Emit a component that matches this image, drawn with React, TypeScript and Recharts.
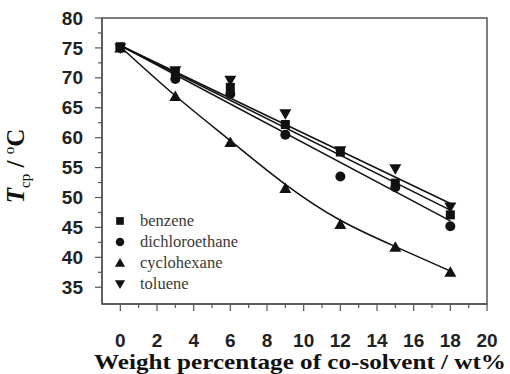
import React from "react";
import { ComposedChart, Line, Scatter, XAxis, YAxis, ReferenceArea, Legend } from "recharts";

// co-solvent content (wt%)
const xs = [0, 3, 6, 9, 12, 15, 18];

// measured cloud points (°C)
const benzene = [75.2, 71.0, 68.4, 62.2, 57.6, 52.4, 47.1];
const dichloroethane = [75.0, 69.8, 67.3, 60.5, 53.5, 51.7, 45.2];
const cyclohexane = [75.0, 66.9, 59.2, 51.5, 45.5, 41.7, 37.5];
const toluene = [75.0, 71.2, 69.6, 64.0, 57.8, 54.8, 48.4];

// fitted lines, read at the ends of the drawn lines
const fitX = [0, 18];
const benzeneFit = [75.4, 47.9];
const dichloroethaneFit = [75.4, 46.1];
const tolueneFit = [75.4, 49.0];
// fitted curve for cyclohexane, read at each x
const cyclohexaneFit = [75.2, 67.0, 59.5, 52.2, 46.2, 41.8, 37.7];

const xTicks = [0, 1, 2, 3, 4, 5, 6, 7, 8, 9, 10, 11, 12, 13, 14, 15, 16, 17, 18, 19, 20];
const yTicks = [35, 37.5, 40, 42.5, 45, 47.5, 50, 52.5, 55, 57.5, 60, 62.5, 65, 67.5, 70, 72.5, 75, 77.5, 80];

const toPts = (x: number[], y: number[]) => x.map((v, i) => ({ x: v, y: y[i] }));

const INK = "#111";
const FRAME = "#555";
const SERIF = "'Liberation Serif', 'Times New Roman', serif";
const SANS = "'Liberation Sans', Arial, sans-serif";

function Square({ cx, cy, s = 1 }: any) {
  return <rect x={cx - 4.5 * s} y={cy - 4.5 * s} width={9 * s} height={9 * s} fill={INK} />;
}
function Dot({ cx, cy, s = 1 }: any) {
  return <circle cx={cx} cy={cy} r={5 * s} fill={INK} />;
}
function TriUp({ cx, cy, s = 1 }: any) {
  return <path d={`M${cx},${cy - 6 * s} L${cx + 6 * s},${cy + 4.5 * s} L${cx - 6 * s},${cy + 4.5 * s} Z`} fill={INK} />;
}
function TriDown({ cx, cy, s = 1 }: any) {
  return <path d={`M${cx},${cy + 6 * s} L${cx + 6 * s},${cy - 4.5 * s} L${cx - 6 * s},${cy - 4.5 * s} Z`} fill={INK} />;
}

const series = [
  { name: "benzene", Shape: Square },
  { name: "dichloroethane", Shape: Dot },
  { name: "cyclohexane", Shape: TriUp },
  { name: "toluene", Shape: TriDown },
];

function XTick({ x, y, payload }: any) {
  const major = payload.value % 2 === 0;
  return (
    <g>
      <line x1={x} x2={x} y1={y} y2={y + (major ? 7 : 4)} stroke={FRAME} strokeWidth={1.2} />
      {major && (
        <text x={x} y={y + 43} textAnchor="middle" fontFamily={SANS} fontWeight="bold" fontSize={19} fill="#222">
          {payload.value}
        </text>
      )}
    </g>
  );
}

function YTick({ x, y, payload }: any) {
  const major = payload.value % 5 === 0;
  return (
    <g>
      <line x1={x - (major ? 7 : 4)} x2={x} y1={y} y2={y} stroke={FRAME} strokeWidth={1.2} />
      {major && (
        <text x={x - 19} y={y} dy="0.35em" textAnchor="end" fontFamily={SANS} fontWeight="bold" fontSize={19} fill="#222">
          {payload.value}
        </text>
      )}
    </g>
  );
}

function XLabel() {
  return (
    <text x={300} y={369} textAnchor="middle" textLength={412} lengthAdjust="spacingAndGlyphs" fontFamily={SERIF} fontWeight="bold" fontSize={21} fill="#111">
      Weight percentage of co-solvent / wt%
    </text>
  );
}

function YLabel() {
  const cx = 24;
  const cy = 166;
  return (
    <text x={cx} y={cy} transform={`rotate(-90, ${cx}, ${cy})`} textAnchor="middle" fontFamily={SERIF} fontWeight="bold" fontSize={25} fill="#111">
      <tspan fontStyle="italic">T</tspan>
      <tspan fontSize={15} fontWeight="normal" dy={6}>cp</tspan>
      <tspan dy={-6}> / </tspan>
      <tspan fontSize={15} fontWeight="normal" dy={-10}>o</tspan>
      <tspan dy={10}>C</tspan>
    </text>
  );
}

function LegendBox() {
  return (
    <div style={{ fontFamily: SERIF, fontSize: 16.5, color: "#3a3a3a" }}>
      {series.map((s) => (
        <div key={s.name} style={{ display: "flex", alignItems: "center", height: 20.8 }}>
          <svg width={14} height={14} style={{ marginRight: 13 }}>
            <s.Shape cx={7} cy={7} s={0.85} />
          </svg>
          <span>{s.name}</span>
        </div>
      ))}
    </div>
  );
}

export default function App() {
  return (
    <div style={{ position: "absolute", left: 0, top: 0, background: "#fff" }}>
      <ComposedChart width={510} height={374} margin={{ top: 18, right: 23, bottom: 0, left: 0 }}>
        <XAxis
          dataKey="x"
          type="number"
          domain={[-1, 20]}
          ticks={xTicks}
          interval={0}
          allowDataOverflow
          height={70}
          tickSize={0}
          tickMargin={0}
          tick={<XTick />}
          axisLine={{ stroke: FRAME, strokeWidth: 1.5 }}
          label={<XLabel />}
        />
        <YAxis
          dataKey="y"
          type="number"
          domain={[32.2, 80]}
          ticks={yTicks}
          interval={0}
          allowDataOverflow
          width={102}
          tickSize={0}
          tickMargin={0}
          tick={<YTick />}
          axisLine={{ stroke: FRAME, strokeWidth: 1.5 }}
          label={<YLabel />}
        />
        <ReferenceArea x1={-1} x2={20} y1={32.2} y2={80} fill="none" stroke={FRAME} strokeWidth={1.5} ifOverflow="visible" />
        <Legend
          layout="vertical"
          align="center"
          verticalAlign="middle"
          content={<LegendBox />}
          wrapperStyle={{ left: 113, top: 211, width: 200 }}
        />
        <Line data={toPts(fitX, tolueneFit)} dataKey="y" type="linear" stroke={INK} strokeWidth={1.5} dot={false} isAnimationActive={false} legendType="none" />
        <Line data={toPts(fitX, benzeneFit)} dataKey="y" type="linear" stroke={INK} strokeWidth={1.5} dot={false} isAnimationActive={false} legendType="none" />
        <Line data={toPts(fitX, dichloroethaneFit)} dataKey="y" type="linear" stroke={INK} strokeWidth={1.5} dot={false} isAnimationActive={false} legendType="none" />
        <Line data={toPts(xs, cyclohexaneFit)} dataKey="y" type="natural" stroke={INK} strokeWidth={1.5} dot={false} isAnimationActive={false} legendType="none" />
        <Scatter data={toPts(xs, benzene)} shape={<Square />} isAnimationActive={false} />
        <Scatter data={toPts(xs, dichloroethane)} shape={<Dot />} isAnimationActive={false} />
        <Scatter data={toPts(xs, cyclohexane)} shape={<TriUp />} isAnimationActive={false} />
        <Scatter data={toPts(xs, toluene)} shape={<TriDown />} isAnimationActive={false} />
      </ComposedChart>
    </div>
  );
}
